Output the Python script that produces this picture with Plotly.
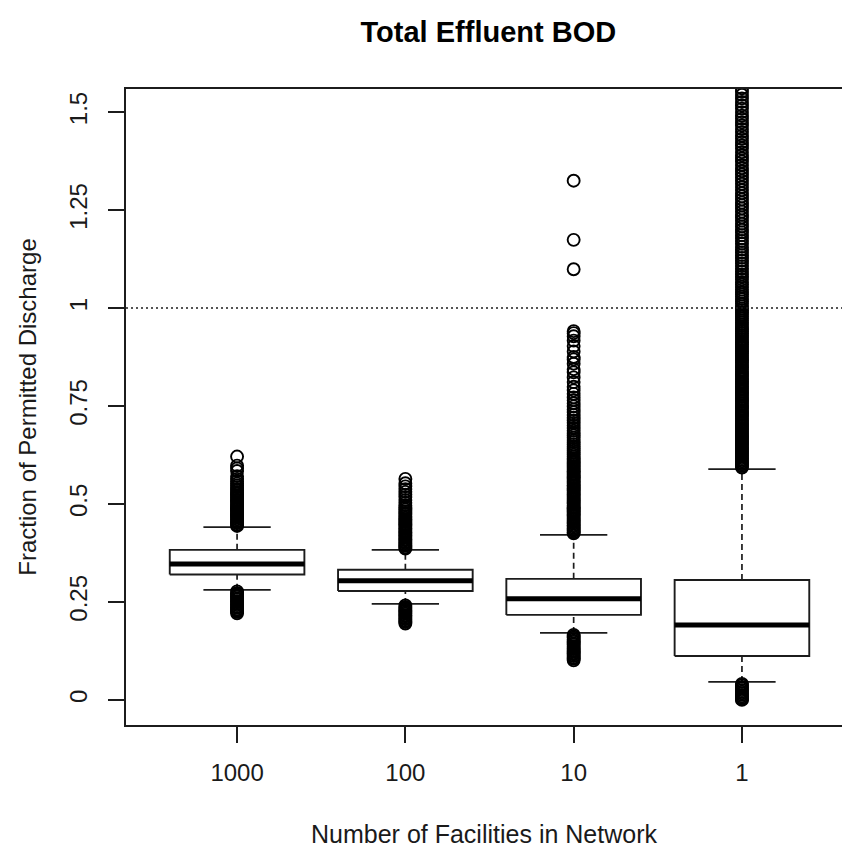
import plotly.graph_objects as go

# ---------------- data ----------------
categories = ["1000", "100", "10", "1"]
positions = [1, 2, 3, 4]

q1 = [0.320, 0.278, 0.217, 0.112]
median = [0.347, 0.304, 0.258, 0.191]
q3 = [0.383, 0.332, 0.309, 0.306]
lower_whisker = [0.281, 0.245, 0.171, 0.046]
upper_whisker = [0.441, 0.383, 0.421, 0.589]

out_1000_hi = [0.444, 0.447, 0.451, 0.454, 0.457, 0.461, 0.465, 0.468, 0.471, 0.475, 0.479, 0.482,
               0.486, 0.489, 0.493, 0.497, 0.500, 0.504, 0.508, 0.511, 0.515, 0.519, 0.522, 0.526,
               0.530, 0.534, 0.538, 0.543, 0.547, 0.552, 0.558, 0.564, 0.571, 0.584, 0.591, 0.598,
               0.621]
out_1000_lo = [0.277, 0.273, 0.270, 0.266, 0.263, 0.259, 0.256, 0.252, 0.249, 0.245, 0.242, 0.238,
               0.235, 0.231, 0.228, 0.225, 0.221]

out_100_hi = [0.386, 0.389, 0.393, 0.396, 0.400, 0.403, 0.407, 0.410, 0.414, 0.418, 0.421, 0.425,
              0.428, 0.432, 0.436, 0.439, 0.443, 0.447, 0.450, 0.454, 0.458, 0.461, 0.465, 0.469,
              0.473, 0.477, 0.481, 0.486, 0.491, 0.497, 0.503, 0.510, 0.518, 0.524, 0.531, 0.538,
              0.545, 0.553, 0.564]
out_100_lo = [0.241, 0.237, 0.234, 0.230, 0.227, 0.223, 0.220, 0.216, 0.213, 0.209, 0.206, 0.202,
              0.199, 0.195]

out_10_hi = [0.425, 0.428, 0.432, 0.435, 0.439, 0.443, 0.446, 0.450, 0.453, 0.457, 0.461, 0.464,
             0.468, 0.472, 0.475, 0.479, 0.482, 0.486, 0.490, 0.493, 0.497, 0.501, 0.504, 0.508,
             0.512, 0.515, 0.519, 0.523, 0.526, 0.530, 0.534, 0.537, 0.541, 0.545, 0.548, 0.552,
             0.556, 0.559, 0.563, 0.567, 0.570, 0.574, 0.578, 0.582, 0.585, 0.589, 0.593, 0.597,
             0.601, 0.605, 0.609, 0.613, 0.617, 0.621, 0.626, 0.631, 0.636, 0.641, 0.646, 0.652,
             0.658, 0.663, 0.669, 0.675, 0.681, 0.687, 0.694, 0.700, 0.707, 0.713, 0.720, 0.727,
             0.734, 0.741, 0.749, 0.757, 0.765, 0.772, 0.781, 0.790, 0.799, 0.811, 0.823, 0.836,
             0.844, 0.858, 0.869, 0.875, 0.889, 0.903, 0.917, 0.928, 0.936, 0.941,
             1.099, 1.174, 1.325]
out_10_lo = [0.166, 0.162, 0.159, 0.155, 0.151, 0.148, 0.144, 0.141, 0.137, 0.133, 0.130, 0.126,
             0.123, 0.119, 0.116, 0.112, 0.108, 0.105, 0.101]

out_1_hi = [0.593, 0.597, 0.601, 0.605, 0.609, 0.613, 0.617, 0.621, 0.625, 0.629, 0.633, 0.637,
            0.641, 0.645, 0.649, 0.653, 0.657, 0.661, 0.665, 0.669, 0.673, 0.677, 0.681, 0.685,
            0.690, 0.694, 0.698, 0.702, 0.706, 0.710, 0.714, 0.718, 0.723, 0.727, 0.731, 0.735,
            0.739, 0.744, 0.748, 0.752, 0.756, 0.761, 0.765, 0.769, 0.773, 0.778, 0.782, 0.786,
            0.791, 0.795, 0.799, 0.804, 0.808, 0.812, 0.817, 0.821, 0.826, 0.830, 0.834, 0.839,
            0.843, 0.848, 0.852, 0.857, 0.861, 0.866, 0.870, 0.875, 0.879, 0.884, 0.889, 0.893,
            0.898, 0.902, 0.907, 0.912, 0.916, 0.921, 0.926, 0.930, 0.935, 0.940, 0.945, 0.949,
            0.954, 0.959, 0.964, 0.969, 0.974, 0.979, 0.984, 0.989, 0.994, 0.999, 1.005, 1.011,
            1.017, 1.023, 1.029, 1.035, 1.041, 1.047, 1.054, 1.060, 1.066, 1.073, 1.080, 1.086,
            1.093, 1.100, 1.107, 1.114, 1.121, 1.128, 1.135, 1.142, 1.149, 1.156, 1.164, 1.171,
            1.178, 1.186, 1.193, 1.200, 1.208, 1.215, 1.223, 1.231, 1.238, 1.246, 1.254, 1.262,
            1.269, 1.277, 1.285, 1.293, 1.301, 1.309, 1.317, 1.325, 1.333, 1.341, 1.349, 1.357,
            1.365, 1.374, 1.382, 1.390, 1.398, 1.407, 1.415, 1.423, 1.432, 1.440, 1.449, 1.457,
            1.466, 1.474, 1.483, 1.491, 1.500, 1.509, 1.517, 1.526, 1.535, 1.544, 1.552, 1.561]
out_1_lo = [0.041, 0.037, 0.033, 0.029, 0.025, 0.021, 0.017, 0.013, 0.009, 0.005, 0.002, 0.000]

outliers = [out_1000_hi + out_1000_lo, out_100_hi + out_100_lo,
            out_10_hi + out_10_lo, out_1_hi + out_1_lo]

y_tickvals = [0, 0.25, 0.5, 0.75, 1, 1.25, 1.5]
y_ticktext = ["0", "0.25", "0.5", "0.75", "1", "1.25", "1.5"]
reference_level = 1.0

# ---------------- figure ----------------
INK = "#1c1c1c"
FONT = "Liberation Sans, Arial, sans-serif"
half_w = 0.4
staple_w = 0.2

fig = go.Figure()

# whiskers (dashed)
wx, wy = [], []
for p, a, b, c, d in zip(positions, lower_whisker, q1, q3, upper_whisker):
    wx += [p, p, None, p, p, None]
    wy += [a, b, None, c, d, None]
fig.add_trace(go.Scatter(x=wx, y=wy, mode="lines",
                         line=dict(color=INK, width=1.7, dash="6px,4px"),
                         hoverinfo="skip", showlegend=False))

# staples
sx, sy = [], []
for p, a, d in zip(positions, lower_whisker, upper_whisker):
    sx += [p - staple_w, p + staple_w, None, p - staple_w, p + staple_w, None]
    sy += [a, a, None, d, d, None]
fig.add_trace(go.Scatter(x=sx, y=sy, mode="lines", line=dict(color=INK, width=1.7),
                         hoverinfo="skip", showlegend=False))

# boxes
bx, by = [], []
for p, b, c in zip(positions, q1, q3):
    bx += [p - half_w, p + half_w, p + half_w, p - half_w, p - half_w, None]
    by += [b, b, c, c, b, None]
fig.add_trace(go.Scatter(x=bx, y=by, mode="lines", line=dict(color=INK, width=1.9),
                         hoverinfo="skip", showlegend=False))

# medians
mx, my = [], []
for p, m in zip(positions, median):
    mx += [p - half_w, p + half_w, None]
    my += [m, m, None]
fig.add_trace(go.Scatter(x=mx, y=my, mode="lines", line=dict(color="#000000", width=5),
                         hoverinfo="skip", showlegend=False))

# outliers
ox, oy = [], []
for p, vals in zip(positions, outliers):
    ox += [p] * len(vals)
    oy += vals
fig.add_trace(go.Scatter(x=ox, y=oy, mode="markers",
                         marker=dict(symbol="circle-open", size=12, color="#000000",
                                     line=dict(width=1.9, color="#000000")),
                         hoverinfo="skip", showlegend=False))

# reference line at 1
fig.add_hline(y=reference_level, line=dict(color=INK, width=1.5, dash="2px,3px"))

fig.update_layout(
    width=842, height=848,
    margin=dict(l=126, r=0, t=89, b=123),
    plot_bgcolor="white", paper_bgcolor="white",
    font=dict(family=FONT, size=24, color="#1a1a1a"),
    title=dict(text="<b>Total Effluent BOD</b>", font=dict(size=29, color="#000000"),
               xref="container", x=0.58, xanchor="center",
               yref="container", y=1 - 32 / 848, yanchor="middle"),
    showlegend=False,
)

fig.update_xaxes(
    range=[0.34, 4.5945],
    tickmode="array", tickvals=positions, ticktext=categories,
    ticks="outside", ticklen=16, tickwidth=1.5, tickcolor=INK,
    showline=True, linecolor=INK, linewidth=1.8, mirror=True,
    showgrid=False, zeroline=False,
    tickfont=dict(size=24),
    ticklabelstandoff=9,
    title=dict(text="Number of Facilities in Network", font=dict(size=25), standoff=42),
)
fig.update_yaxes(
    range=[-0.064, 1.559],
    tickmode="array", tickvals=y_tickvals, ticktext=y_ticktext,
    tickangle=-90,
    ticks="outside", ticklen=16, tickwidth=1.5, tickcolor=INK,
    showline=True, linecolor=INK, linewidth=1.8, mirror=False,
    showgrid=False, zeroline=False,
    tickfont=dict(size=24),
    ticklabelstandoff=12,
    title=dict(text="Fraction of Permitted Discharge", font=dict(size=24), standoff=21),
)

fig.write_html(
    "out.html",
    config={"displayModeBar": False},
    post_script="document.body.style.margin='0px';document.body.style.overflow='hidden';",
)
